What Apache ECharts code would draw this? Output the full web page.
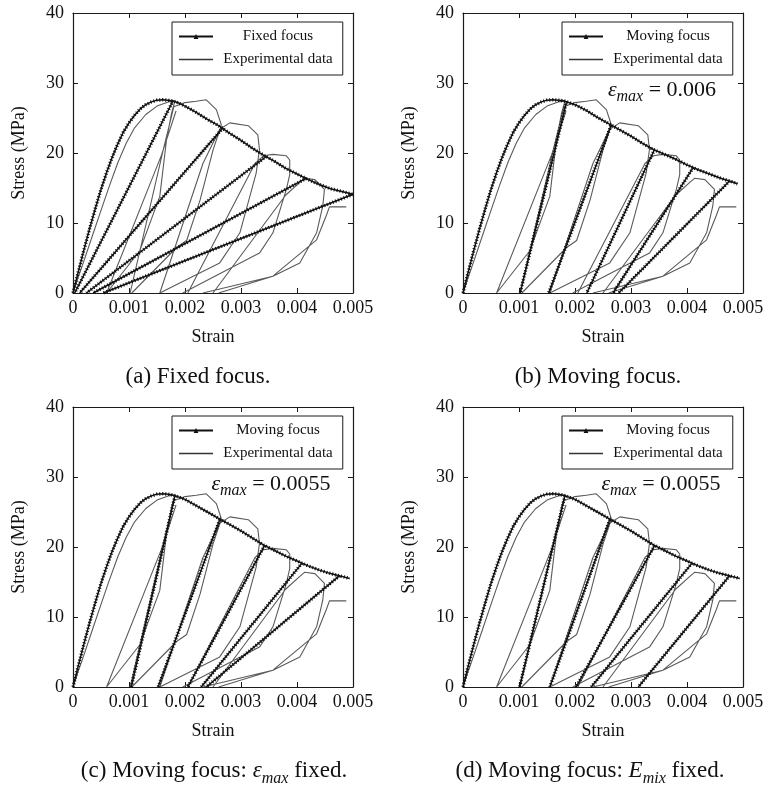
<!DOCTYPE html>
<html>
<head>
<meta charset="utf-8">
<script src="https://cdn.jsdelivr.net/npm/echarts@6/dist/echarts.min.js"></script>
<style>
  html, body { margin: 0; padding: 0; background: #ffffff; }
  #chart { width: 769px; height: 790px; }
</style>
</head>
<body>
<div id="chart"></div>
<script>
// ---- axis ranges ----
const strainMax = 0.005, strainStep = 0.001;
const stressMax = 40, stressStep = 10;

// ---- experimental cyclic compression test (same in every panel), one array per branch ----
const expLoading = [[0,0],[0.0001,2.4],[0.0002,4.7],[0.00036,8.5],[0.0005,11.8],[0.00065,15.3],[0.0008,18.6],[0.00095,21.4],[0.0011,23.6],[0.0013,25.5],[0.0015,26.7],[0.0017,27.3],[0.00182,27.4]];
const expUnload1 = [[0.00182,27.4],[0.00176,25.7],[0.00167,21.9],[0.00155,13.8],[0.00119,6.0],[0.0006,0]];
const expReload1 = [[0.0006,0],[0.00158,19.7],[0.00184,26.0]];
const expReload1b = [[0.00102,0],[0.00161,20.4],[0.0018,26.6],[0.002,27.2],[0.0022,27.4],[0.00238,27.6],[0.00256,26.2],[0.00265,24.0]];
const expUnload2 = [[0.00265,24.0],[0.0025,20.4],[0.00227,13.3],[0.00203,7.5],[0.00185,6.5],[0.00105,0]];
const expReload2 = [[0.00155,0],[0.00232,18.5],[0.00262,23.4],[0.0028,24.3],[0.00313,23.9],[0.0033,22.6],[0.00333,20.5]];
const expUnload3 = [[0.00333,20.5],[0.00327,17.1],[0.00298,8.6],[0.00262,4.3],[0.00155,0]];
const expReload3 = [[0.00205,0],[0.00325,18.5],[0.0034,19.6],[0.00357,19.8],[0.00381,19.6],[0.00387,19.0],[0.00387,16.9]];
const expUnload4 = [[0.00387,16.9],[0.00381,14.8],[0.00357,8.6],[0.00333,5.7],[0.00196,0]];
const expReload4 = [[0.0025,0],[0.0038,14.0],[0.00405,15.8],[0.00414,16.4],[0.00432,16.2],[0.00449,14.8],[0.00446,12.4]];
const expUnload5 = [[0.00446,12.4],[0.00435,8.6],[0.00405,4.3],[0.00357,2.4],[0.00232,0]];
const expReload5 = [[0.0026,0],[0.00357,2.4],[0.00435,7.6],[0.00452,11.0],[0.00458,12.3],[0.00488,12.3]];
const expBranches = [expLoading, expUnload1, expReload1, expReload1b, expUnload2, expReload2,
                     expUnload3, expReload3, expUnload4, expReload4, expUnload5, expReload5];

// ---- model envelope: common ascending branch ----
const modelRising = [[0,0],[0.0001,3.2],[0.0002,6.3],[0.0003,9.3],[0.0004,12.1],[0.0005,14.8],[0.0006,17.2],[0.0007,19.4],[0.0008,21.3],[0.0009,23.0],[0.001,24.3],[0.0011,25.4],[0.0012,26.3],[0.0013,26.9],[0.0014,27.3],[0.0015,27.55],[0.0016,27.6]];

// (a) fixed focus: softening branch and unloading lines [point on envelope, point on strain axis]
const fixedSoftening = [[0.0017,27.55],[0.0018,27.4],[0.0019,27.1],[0.002,26.7],[0.0022,25.8],[0.0024,24.8],[0.0026,23.9],[0.0028,22.8],[0.003,21.8],[0.0032,20.7],[0.0034,19.7],[0.0036,18.8],[0.0038,17.8],[0.004,17.0],[0.0042,16.2],[0.0044,15.5],[0.0046,14.9],[0.0048,14.5],[0.005,14.1]];
const fixedUnloading = [[[0.00179,27.5],[0.00003,0]],[[0.00268,23.6],[0.00012,0]],[[0.00345,19.5],[0.00024,0]],[[0.00417,16.4],[0.00036,0]],[[0.005,14.1],[0.00054,0]]];

// (b) moving focus, eps_max = 0.006
const movingSofteningB = [[0.0017,27.55],[0.0018,27.45],[0.002,26.9],[0.0022,26.1],[0.0024,25.1],[0.0026,24.2],[0.0028,23.3],[0.003,22.4],[0.0032,21.4],[0.0034,20.5],[0.0036,19.8],[0.0038,19.1],[0.004,18.3],[0.0042,17.6],[0.0044,17.0],[0.0046,16.4],[0.0048,15.9],[0.0049,15.6]];
const movingUnloadingB = [[[0.00185,27.4],[0.00102,0]],[[0.00264,23.9],[0.00153,0]],[[0.00342,20.5],[0.00221,0]],[[0.00411,17.9],[0.00268,0]],[[0.00476,16.0],[0.00278,0]]];

// (c) moving focus, eps_max fixed at 0.0055
const movingSofteningC = [[0.0017,27.55],[0.0018,27.4],[0.002,26.8],[0.0022,25.9],[0.0024,25.0],[0.0026,24.1],[0.0028,23.2],[0.003,22.3],[0.0032,21.3],[0.0034,20.3],[0.0036,19.5],[0.0038,18.7],[0.004,18.0],[0.0042,17.3],[0.0044,16.7],[0.0046,16.2],[0.0048,15.8],[0.00494,15.5]];
const movingUnloadingC = [[[0.00182,27.3],[0.00104,0]],[[0.00262,23.9],[0.00152,0]],[[0.00342,20.2],[0.00205,0]],[[0.00409,17.7],[0.00229,0]],[[0.00476,15.9],[0.00238,0]]];

// (d) moving focus, E_mix fixed
const movingSofteningD = [[0.0017,27.55],[0.0018,27.4],[0.002,26.8],[0.0022,25.9],[0.0024,25.0],[0.0026,24.1],[0.0028,23.2],[0.003,22.3],[0.0032,21.3],[0.0034,20.3],[0.0036,19.5],[0.0038,18.7],[0.004,18.0],[0.0042,17.3],[0.0044,16.7],[0.0046,16.2],[0.0048,15.8],[0.00494,15.5]];
const movingUnloadingD = [[[0.00182,27.3],[0.00101,0]],[[0.00262,23.9],[0.00155,0]],[[0.00342,20.2],[0.00202,0]],[[0.00409,17.7],[0.00229,0]],[[0.00476,15.9],[0.00313,0]]];

// ---- texts ----
const modelNames = ['Fixed focus', 'Moving focus', 'Moving focus', 'Moving focus'];
const expName = 'Experimental data';
const epsMaxNotes = [null, '0.006', '0.0055', '0.0055'];
const captions = [
  '{t|(a) Fixed focus.}',
  '{t|(b) Moving focus.}',
  '{t|(c) Moving focus: }{i|\u03b5}{s|max}{t| fixed.}',
  '{t|(d) Moving focus: }{i|E}{s|mix}{t| fixed.}'
];

// ---- layout ----
const SERIF = '"Liberation Serif", "Times New Roman", serif';
const plotSize = 280;
const panels = [
  { left: 73,  top: 13,  softening: fixedSoftening,   unloading: fixedUnloading,   capX: 198, capY: 377, noteX: 662 },
  { left: 463, top: 13,  softening: movingSofteningB, unloading: movingUnloadingB, capX: 598, capY: 377, noteX: 662 },
  { left: 73,  top: 407, softening: movingSofteningC, unloading: movingUnloadingC, capX: 214, capY: 771, noteX: 271 },
  { left: 463, top: 407, softening: movingSofteningD, unloading: movingUnloadingD, capX: 590, capY: 771, noteX: 661 }
];

function joinPaths(paths) {
  const out = [];
  paths.forEach((p, i) => {
    if (i) out.push(['-', '-']);
    p.forEach(pt => out.push(pt));
  });
  return out;
}

const frameColor = '#1a1a1a';
const expColor = '#5a5a5a';
const grid = [], xAxis = [], yAxis = [], series = [], legend = [], graphic = [];

panels.forEach((p, i) => {
  grid.push({ left: p.left, top: p.top, width: plotSize, height: plotSize, containLabel: false });

  const tick = { show: true, inside: true, length: 5, lineStyle: { color: frameColor, width: 1 } };
  const line = { show: true, onZero: false, lineStyle: { color: frameColor, width: 1.2 } };

  xAxis.push({
    gridIndex: i, type: 'value', position: 'bottom', min: 0, max: strainMax, interval: strainStep,
    name: 'Strain', nameLocation: 'middle', nameGap: 35,
    nameTextStyle: { fontFamily: SERIF, fontSize: 18, color: '#111' },
    axisLine: line, axisTick: tick, splitLine: { show: false },
    axisLabel: { fontFamily: SERIF, fontSize: 18, color: '#111', margin: 6,
      formatter: v => (v === 0 ? '0' : v.toFixed(3)) }
  });
  xAxis.push({
    gridIndex: i, type: 'value', position: 'top', min: 0, max: strainMax, interval: strainStep,
    axisLine: line, axisTick: tick, splitLine: { show: false }, axisLabel: { show: false }
  });
  yAxis.push({
    gridIndex: i, type: 'value', position: 'left', min: 0, max: stressMax, interval: stressStep,
    name: 'Stress (MPa)', nameLocation: 'middle', nameGap: 45,
    nameTextStyle: { fontFamily: SERIF, fontSize: 18, color: '#111' },
    axisLine: line, axisTick: tick, splitLine: { show: false },
    axisLabel: { fontFamily: SERIF, fontSize: 18, color: '#111', margin: 9 }
  });
  yAxis.push({
    gridIndex: i, type: 'value', position: 'right', min: 0, max: stressMax, interval: stressStep,
    axisLine: line, axisTick: tick, splitLine: { show: false }, axisLabel: { show: false }
  });

  const ax = 2 * i;
  series.push({
    type: 'line', name: expName, xAxisIndex: ax, yAxisIndex: ax,
    data: joinPaths(expBranches), symbol: 'none', connectNulls: false,
    lineStyle: { color: expColor, width: 1.1 }, itemStyle: { color: expColor },
    silent: true, z: 2
  });
  const modelData = joinPaths([modelRising.concat(p.softening)].concat(p.unloading));
  series.push({
    type: 'line', name: modelNames[i], xAxisIndex: ax, yAxisIndex: ax,
    data: modelData, symbol: 'triangle', symbolSize: 5, showSymbol: false, connectNulls: false,
    lineStyle: { color: '#111', width: 1.5 }, itemStyle: { color: '#111' },
    silent: true, z: 3
  });
  // triangle-marker texture along the model curves
  series.push({
    type: 'line', name: modelNames[i] + ' markers', xAxisIndex: ax, yAxisIndex: ax,
    data: modelData, symbol: 'none', connectNulls: false,
    lineStyle: { color: '#111', width: 3.4, type: [1.1, 1.9], cap: 'butt' },
    silent: true, z: 4
  });

  legend.push({
    data: [
      modelNames[i],
      { name: expName, icon: 'line', itemStyle: { color: '#333', borderColor: '#333', borderWidth: 1.3 } }
    ],
    orient: 'vertical', left: p.left + 99, top: p.top + 9,
    itemWidth: 34, itemHeight: 6, itemGap: 8,
    padding: [7, 10, 8, 6],
    borderColor: frameColor, borderWidth: 1, backgroundColor: '#fff',
    selectedMode: false,
    formatter: n => '{c|' + n + '}',
    textStyle: { fontFamily: SERIF, fontSize: 15, color: '#111',
      rich: { c: { width: 120, align: 'center', fontFamily: SERIF, fontSize: 15, color: '#111' } } }
  });

  if (epsMaxNotes[i]) {
    graphic.push({
      type: 'text', x: p.noteX, y: p.top + 77, z: 10,
      style: {
        text: '{i|\u03b5}{s|max}{n| = ' + epsMaxNotes[i] + '}',
        align: 'center', verticalAlign: 'middle',
        rich: {
          i: { fontFamily: SERIF, fontSize: 22, fontStyle: 'italic', fill: '#111', lineHeight: 30, verticalAlign: 'middle' },
          s: { fontFamily: SERIF, fontSize: 16, fontStyle: 'italic', fill: '#111', lineHeight: 16, verticalAlign: 'bottom' },
          n: { fontFamily: SERIF, fontSize: 22, fill: '#111', lineHeight: 30, verticalAlign: 'middle' }
        }
      }
    });
  }

  graphic.push({
    type: 'text', x: p.capX, y: p.capY,
    style: {
      text: captions[i], align: 'center', verticalAlign: 'middle',
      rich: {
        t: { fontFamily: SERIF, fontSize: 23, fill: '#111', lineHeight: 31, verticalAlign: 'middle' },
        i: { fontFamily: SERIF, fontSize: 23, fontStyle: 'italic', fill: '#111', lineHeight: 31, verticalAlign: 'middle' },
        s: { fontFamily: SERIF, fontSize: 16, fontStyle: 'italic', fill: '#111', lineHeight: 16, verticalAlign: 'bottom' }
      }
    }
  });
});

const chart = echarts.init(document.getElementById('chart'), null, { renderer: 'canvas' });
chart.setOption({
  animation: false,
  backgroundColor: '#ffffff',
  textStyle: { fontFamily: SERIF },
  grid, xAxis, yAxis, series, legend, graphic
});
</script>
</body>
</html>
